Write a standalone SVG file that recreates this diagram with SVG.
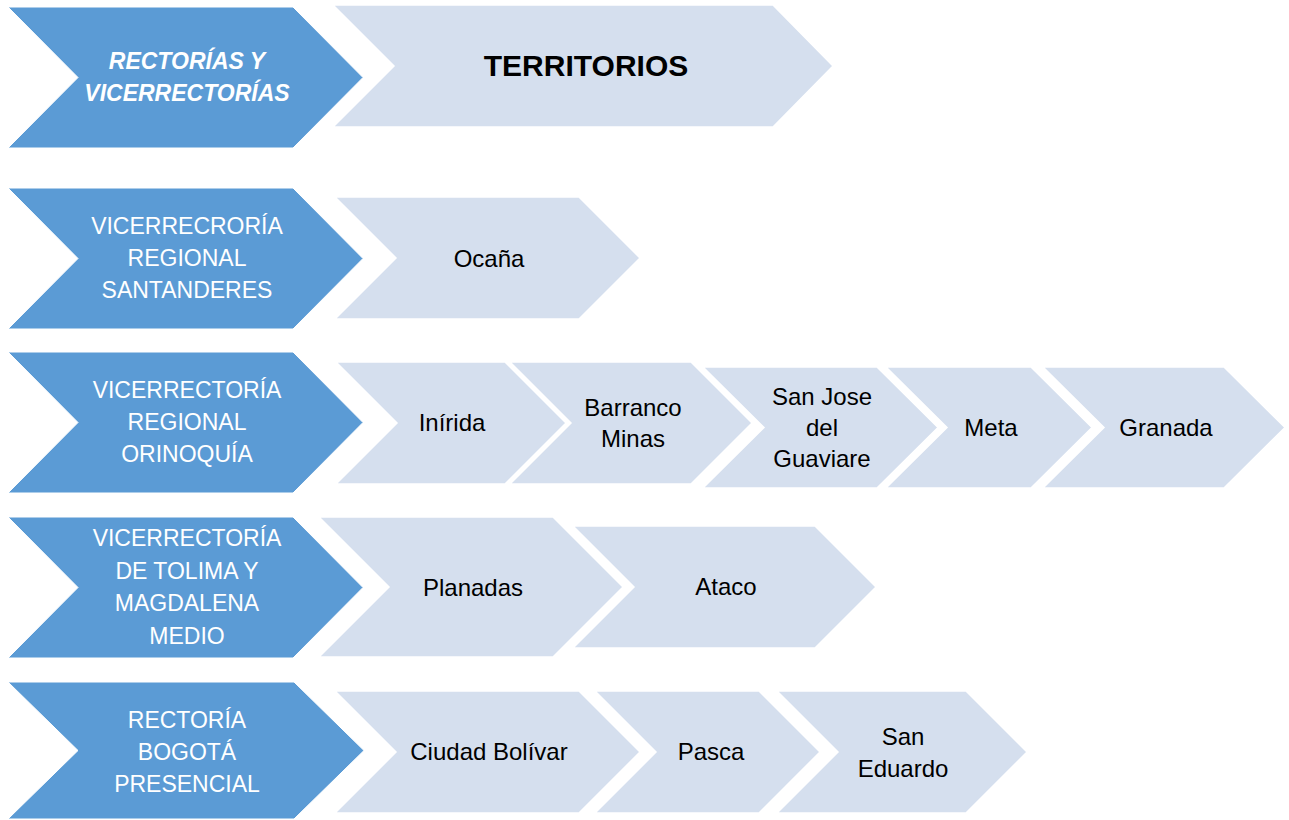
<svg xmlns="http://www.w3.org/2000/svg" width="1289" height="820" viewBox="0 0 1289 820">
<style>
.b{fill:#5B9BD5;stroke:#fff;stroke-width:1}
.l{fill:#D5DFEE;stroke:#fff;stroke-width:1.5}
text{font-family:"Liberation Sans",Arial,sans-serif;text-anchor:middle}
.w{fill:#fff;font-size:23px}
.k{fill:#000;font-size:24px}
.h{fill:#fff;font-size:23px;font-weight:bold;font-style:italic}
.t{fill:#000;font-size:30px;font-weight:bold}
</style>
<rect width="1289" height="820" fill="#fff"/>
<g id="header-rectorias">
<polygon class="b" points="8,7 293,7 363,77.5 293,148 8,148 78,77.5"/>
<text class="h" x="187" y="69">RECTORÍAS Y</text>
<text class="h" x="187" y="101">VICERRECTORÍAS</text>
</g>
<g id="header-territorios">
<polygon class="l" points="333,5 773,5 833,66 773,127 333,127 394,66"/>
<text class="t" x="586" y="76">TERRITORIOS</text>
</g>
<g id="santanderes">
<polygon class="b" points="8,188 293,188 363,258.5 293,329 8,329 78,258.5"/>
<text class="w" x="187" y="234">VICERRECRORÍA</text>
<text class="w" x="187" y="266">REGIONAL</text>
<text class="w" x="187" y="298">SANTANDERES</text>
</g>
<g id="ocana">
<polygon class="l" points="335,197 579,197 640,258 579,319 335,319 396,258"/>
<text class="k" x="489" y="267">Ocaña</text>
</g>
<g id="orinoquia">
<polygon class="b" points="8,352 293,352 363,422.5 293,493 8,493 78,422.5"/>
<text class="w" x="187" y="398">VICERRECTORÍA</text>
<text class="w" x="187" y="430">REGIONAL</text>
<text class="w" x="187" y="462">ORINOQUÍA</text>
</g>
<g id="inirida">
<polygon class="l" points="336,362 505,362 566,423 505,484 336,484 397,423"/>
<text class="k" x="452" y="431">Inírida</text>
</g>
<g id="barranco-minas">
<polygon class="l" points="510,362 691,362 752,423 691,484 510,484 571,423"/>
<text class="k" x="633" y="416">Barranco</text>
<text class="k" x="633" y="447">Minas</text>
</g>
<g id="san-jose">
<polygon class="l" points="703,367 877,367 938,427.5 877,488 703,488 764,427.5"/>
<text class="k" x="822" y="405">San Jose</text>
<text class="k" x="822" y="436">del</text>
<text class="k" x="822" y="467">Guaviare</text>
</g>
<g id="meta">
<polygon class="l" points="886,367 1031,367 1092,427.5 1031,488 886,488 947,427.5"/>
<text class="k" x="991" y="436">Meta</text>
</g>
<g id="granada">
<polygon class="l" points="1043,367 1224,367 1285,427.5 1224,488 1043,488 1104,427.5"/>
<text class="k" x="1166" y="436">Granada</text>
</g>
<g id="tolima">
<polygon class="b" points="8,517 293,517 363,587.5 293,658 8,658 78,587.5"/>
<text class="w" x="187" y="546">VICERRECTORÍA</text>
<text class="w" x="187" y="578.5">DE TOLIMA Y</text>
<text class="w" x="187" y="611">MAGDALENA</text>
<text class="w" x="187" y="643.5">MEDIO</text>
</g>
<g id="planadas">
<polygon class="l" points="319,517 553,517 623,587 553,657 319,657 389,587"/>
<text class="k" x="473" y="596">Planadas</text>
</g>
<g id="ataco">
<polygon class="l" points="573,526 815,526 876,587 815,648 573,648 634,587"/>
<text class="k" x="726" y="595">Ataco</text>
</g>
<g id="bogota">
<polygon class="b" points="8,682 294,682 364,750.5 294,819 8,819 78,750.5"/>
<text class="w" x="187" y="728">RECTORÍA</text>
<text class="w" x="187" y="760">BOGOTÁ</text>
<text class="w" x="187" y="792">PRESENCIAL</text>
</g>
<g id="ciudad-bolivar">
<polygon class="l" points="335,691 579,691 640,752 579,813 335,813 396,752"/>
<text class="k" x="489" y="760">Ciudad Bolívar</text>
</g>
<g id="pasca">
<polygon class="l" points="595,691 759,691 820,752 759,813 595,813 656,752"/>
<text class="k" x="711" y="760">Pasca</text>
</g>
<g id="san-eduardo">
<polygon class="l" points="777,691 966,691 1027,752 966,813 777,813 838,752"/>
<text class="k" x="903" y="745">San</text>
<text class="k" x="903" y="777">Eduardo</text>
</g>
<g id="connectors"/>
</svg>
